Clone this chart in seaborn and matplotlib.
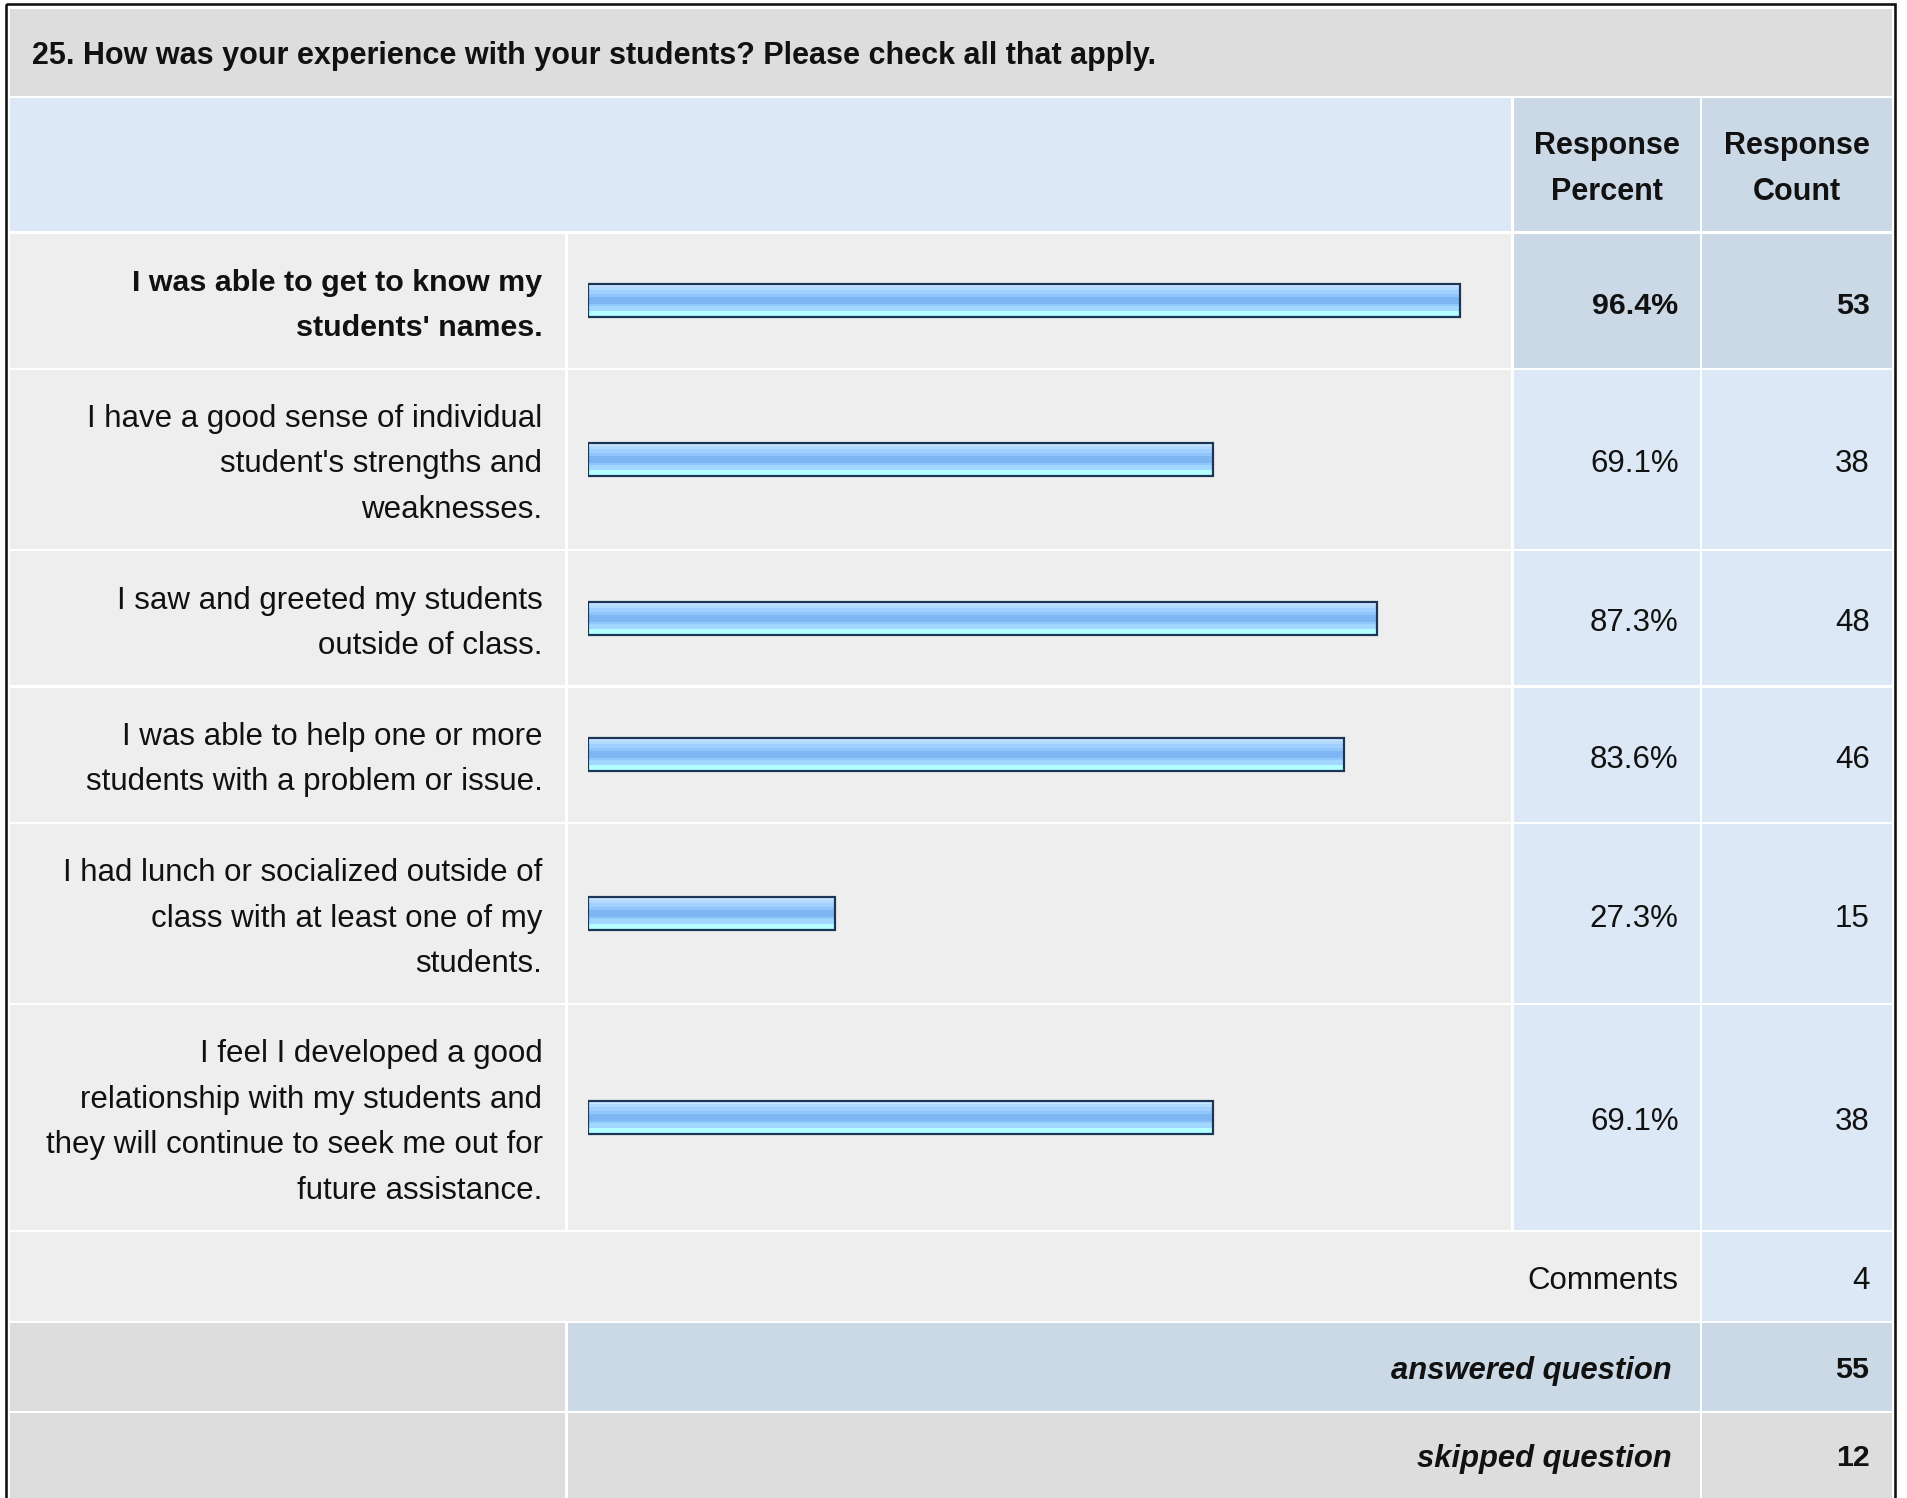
import numpy as np
import pandas as pd
import matplotlib
matplotlib.use("Agg")
import matplotlib.pyplot as plt
from matplotlib.patches import Rectangle
from matplotlib.colors import to_rgb
import seaborn as sns

# ---------------- data ----------------
question = "25. How was your experience with your students? Please check all that apply."
answer_options = [
    "I was able to get to know my\nstudents' names.",
    "I have a good sense of individual\nstudent's strengths and\nweaknesses.",
    "I saw and greeted my students\noutside of class.",
    "I was able to help one or more\nstudents with a problem or issue.",
    "I had lunch or socialized outside of\nclass with at least one of my\nstudents.",
    "I feel I developed a good\nrelationship with my students and\nthey will continue to seek me out for\nfuture assistance.",
]
response_percent = [96.4, 69.1, 87.3, 83.6, 27.3, 69.1]
response_count = [53, 38, 48, 46, 15, 38]
header_labels = ["Response\nPercent", "Response\nCount"]
comments_label = "Comments"
comments_count = 4
answered_label = "answered question"
answered_count = 55
skipped_label = "skipped question"
skipped_count = 12

# ---------------- style ----------------
sns.set_theme(style="white")
plt.rcParams['font.family'] = ['Liberation Sans', 'DejaVu Sans']

W, H, DPI = 1907, 1498, 100
TXT = '#111111'
C_TITLE = '#dddddd'
C_HEAD = '#dce8f5'
C_HEAD_DARK = '#cbd8e6'
C_ROW = '#eeeeee'
C_GRAY = '#dddddd'
FS = 22.5        # regular text, pt
FS_B = 21.9      # bold text, pt
FS_BI = 22.3     # bold italic text
FS_TITLE = 22.0

fig = plt.figure(figsize=(W / DPI, H / DPI), dpi=DPI)
fig.patch.set_facecolor('white')
ax = fig.add_axes([0, 0, 1, 1])
ax.set_xlim(0, W)
ax.set_ylim(H, 0)
ax.axis('off')


def cell(x0, y0, x1, y1, color):
    ax.add_patch(Rectangle((x0, y0), x1 - x0, y1 - y0, facecolor=color,
                           edgecolor='none', zorder=1))


def lines(x, yc, s, ha='right', weight='normal', style='normal', size=None, step=45.5, base=13):
    if size is None:
        size = FS_B if weight == 'bold' else FS
    parts = s.split('\n')
    n = len(parts)
    for i, p in enumerate(parts):
        y = yc + (i - (n - 1) / 2) * step + base
        ax.text(x, y, p, ha=ha, va='baseline', fontsize=size, fontweight=weight,
                fontstyle=style, color=TXT, zorder=5)


# column edges (px)
X0, XL = 9.5, 565.0
XB, XBR = 567.5, 1511.0
XP, XPR = 1513.5, 1699.5
XC, XCR = 1702.0, 1892.0
GAP = 2.4

# outer border
ax.add_patch(Rectangle((6.2, 3.8), 1895 - 6.2, H + 20, facecolor='none',
                       edgecolor='#111111', linewidth=2.6 * 72 / DPI, zorder=6))

# title band
cell(X0, 8.5, XCR, 95.5, C_TITLE)
ax.text(32.5, 64, question, ha='left', va='baseline', fontsize=FS_TITLE,
        fontweight='bold', color=TXT, zorder=5)

# header
HY0, HY1 = 97.5, 231.0
cell(X0, HY0, XBR, HY1, C_HEAD)
cell(XP, HY0, XPR, HY1, C_HEAD_DARK)
cell(XC, HY0, XCR, HY1, C_HEAD_DARK)
hc = (HY0 + HY1) / 2
lines((XP + XPR) / 2, hc, header_labels[0], ha='center', weight='bold', size=22, step=46)
lines((XC + XCR) / 2, hc, header_labels[1], ha='center', weight='bold', size=22, step=46)

# gradient for bars (top -> bottom)
grad_stops = [('#c8e4ff', 8), ('#b2daff', 8), ('#a0d0ff', 12), ('#90c6fc', 10),
              ('#7db6f2', 18), ('#90c8fc', 8), ('#a2d8ff', 14), ('#b4ffff', 16)]
grad_rows = []
for c, k in grad_stops:
    grad_rows += [to_rgb(c)] * k
grad = np.array(grad_rows).reshape(-1, 1, 3)

BAR_X0 = 588.4
BAR_SCALE = 903.7      # px for 100 %
BAR_PX = 33.0
max_pct = max(response_percent)

y = 233.5
for label, pct, cnt in zip(answer_options, response_percent, response_count):
    n = label.count('\n') + 1
    h = 44 + 45 * n
    y0, y1 = y, y + h
    yc = (y0 + y1) / 2
    top = pct == max_pct
    cell(X0, y0, XL, y1, C_ROW)
    cell(XB, y0, XBR, y1, C_ROW)
    cell(XP, y0, XPR, y1, C_HEAD_DARK if top else C_HEAD)
    cell(XC, y0, XCR, y1, C_HEAD_DARK if top else C_HEAD)
    wt = 'bold' if top else 'normal'
    lines(542.5, yc, label, weight=wt)
    lines(1678.5, yc, f"{pct:.1f}%", weight=wt)
    lines(1869.5, yc, f"{cnt}", weight=wt)

    # bar axes for this row
    bax = fig.add_axes([BAR_X0 / W, 1 - y1 / H, BAR_SCALE / W, h / H])
    df = pd.DataFrame({'pct': [pct], 'opt': ['o']})
    sns.barplot(data=df, x='pct', y='opt', orient='h', ax=bax, width=BAR_PX / h,
                color='#90c6fc', edgecolor='#1d3557', linewidth=2.2 * 72 / DPI,
                err_kws={'linewidth': 0})
    for p in bax.patches:
        bx, by = p.get_x(), p.get_y()
        bw, bh = p.get_width(), p.get_height()
        im = bax.imshow(grad, extent=(bx, bx + bw, by + bh, by), aspect='auto',
                        interpolation='nearest', zorder=1.5)
        im.set_clip_path(p)
        p.set_facecolor('none')
        p.set_zorder(2)
    bax.set_xlim(0, 100)
    bax.set_ylim(0.5, -0.5)
    bax.axis('off')
    bax.patch.set_alpha(0)
    y = y1 + GAP

# comments row
y0, y1 = 1232.0, 1320.8
cell(X0, y0, XPR, y1, C_ROW)
cell(XC, y0, XCR, y1, C_HEAD)
yc = (y0 + y1) / 2
lines(1678.5, yc, comments_label)
lines(1869.5, yc, str(comments_count))

# answered row
y0, y1 = 1323.2, 1410.8
cell(X0, y0, XL, y1, C_GRAY)
cell(XB, y0, XPR, y1, C_HEAD_DARK)
cell(XC, y0, XCR, y1, C_HEAD_DARK)
yc = (y0 + y1) / 2
lines(1672, yc, answered_label, weight='bold', style='italic', size=FS_BI, base=11.5)
lines(1869.5, yc, str(answered_count), weight='bold', base=11.5)

# skipped row
y0, y1 = 1413.2, 1500.0
cell(X0, y0, XL, y1, C_GRAY)
cell(XB, y0, XPR, y1, C_GRAY)
cell(XC, y0, XCR, y1, C_GRAY)
yc = 1455.0
lines(1672, yc, skipped_label, weight='bold', style='italic', size=FS_BI, base=11.5)
lines(1869.5, yc, str(skipped_count), weight='bold', base=11.5)

fig.savefig('out.png', dpi=DPI, facecolor='white')
